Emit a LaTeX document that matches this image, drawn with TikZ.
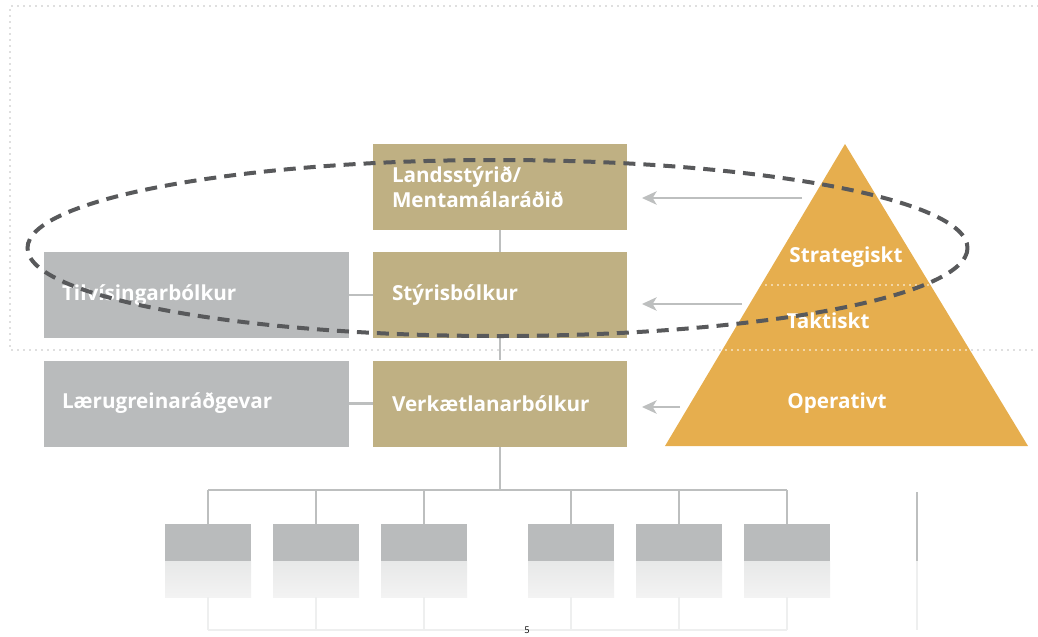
\documentclass[tikz,border=0pt]{standalone}
\usepackage{fontspec}
\setmainfont{Open Sans}
\usetikzlibrary{arrows.meta}
\definecolor{tanfill}{RGB}{191,176,131}
\definecolor{boxgrey}{RGB}{185,187,188}
\definecolor{pyrorange}{RGB}{230,174,78}
\definecolor{ringgrey}{RGB}{88,89,91}
\definecolor{linkgrey}{RGB}{189,191,191}
\definecolor{dotgrey}{RGB}{190,190,190}
\definecolor{faintgrey}{RGB}{238,239,239}
\definecolor{mirrortop}{RGB}{231,232,232}
\definecolor{mirrorbot}{RGB}{243,243,243}
\begin{document}
\begin{tikzpicture}[x=0.75pt,y=-0.75pt,
  every node/.style={font=\fontsize{15.5}{19}\selectfont\bfseries, text=white},
  tanbox/.style={fill=tanfill, minimum width=190.5pt, minimum height=64.5pt,
    text width=162pt, inner xsep=14.25pt, inner ysep=0pt, align=left},
  greybox/.style={fill=boxgrey, minimum width=228.75pt, minimum height=64.5pt,
    text width=201.75pt, inner xsep=13.5pt, inner ysep=0pt, align=left},
  unitbox/.style={fill=boxgrey, minimum width=64.5pt, minimum height=27.75pt, inner sep=0pt},
  mirrorbox/.style={top color=mirrortop, bottom color=mirrorbot, minimum width=64.5pt,
    minimum height=27pt, inner sep=0pt},
  link/.style={draw=linkgrey, line width=1.7pt},
  faint/.style={draw=faintgrey, line width=1.5pt},
  flow/.style={draw=linkgrey, line width=1.8pt, -{Stealth[length=11pt,width=10pt,inset=3pt]}, shorten >=11pt},
  border/.style={draw=dotgrey, line width=1.2pt, line cap=round, dash pattern=on 0pt off 4.5pt},
  ring/.style={draw=ringgrey, line width=3pt, dash pattern=on 9pt off 6pt}]
  \useasboundingbox (0,0) rectangle (1038,636);
  % dotted frame
  \draw[border] (1038,6) -- (10,6) -- (10,350) -- (1038,350);

  % main column
  \node[tanbox] (lands) at (500,187) {Landsstýrið/\\Mentamálaráðið};
  \node[tanbox] (styr) at (500,295) {Stýrisbólkur};
  \node[tanbox] (verk) at (500,403.5) {Verkætlanarbólkur};
  \node[greybox] (tilv) at (196.5,295) {Tilvísingarbólkur};
  \node[greybox] (laer) at (196.5,403.5) {Lærugreinaráðgevar};
  \draw[link] (lands) -- (styr);
  \draw[link] (styr) -- (verk);
  \draw[link] (tilv) -- (styr);
  \draw[link] (laer) -- (verk);

  % units below
  \coordinate (bus) at (499,490);
  \coordinate (floor) at (499,630);
  \draw[link] (verk.south) -- (verk.south |- bus);
  \foreach \x [count=\i] in {208,316,424,571,679,787} {
    \node[unitbox] (u\i) at (\x,542.5) {};
    \node[mirrorbox] (m\i) at (\x,579) {};
    \draw[link] (u\i.north) -- (u\i.north |- bus);
    \draw[faint] (m\i.south) -- (m\i.south |- floor);
  }
  \draw[link] (u1.north |- bus) -- (u6.north |- bus);
  \draw[faint] (m1.south |- floor) -- (m6.south |- floor);
  \coordinate (edgetop) at (917,492);
  \coordinate (edgemid) at (917,561);
  \coordinate (edgebot) at (917,630);
  \draw[link] (edgetop) -- (edgemid);
  \draw[faint] (edgemid) -- (edgebot);
  \node[text=black, font=\fontsize{7}{8}\selectfont, inner sep=0pt] (page) at (527,630) {5};

  % pyramid
  \coordinate (apex) at (845,144);
  \coordinate (baseL) at (665,446);
  \coordinate (baseR) at (1028,446);
  \fill[pyrorange] (apex) -- (baseL) -- (baseR) -- cycle;
  \begin{scope}
    \clip (apex) -- (baseL) -- (baseR) -- cycle;
    \draw[border, draw=white] (700,285) -- (1000,285);
    \draw[border, draw=white] (660,350) -- (1038,350);
  \end{scope}
  \node (strat) at (846,257) {Strategiskt};
  \node (takt) at (828,321) {Taktiskt};
  \node (oper) at (837,403) {Operativt};

  % arrows
  \coordinate (s1) at (802,198);
  \coordinate (s2) at (742,304);
  \coordinate (s3) at (680,407);
  \draw[flow] (s1) -- (lands.east |- s1);
  \draw[flow] (s2) -- (styr.east |- s2);
  \draw[flow] (s3) -- (verk.east |- s3);

  % dashed ring
  \draw[ring] (497.5,248) ellipse [x radius=470, y radius=88];
\end{tikzpicture}
\end{document}
